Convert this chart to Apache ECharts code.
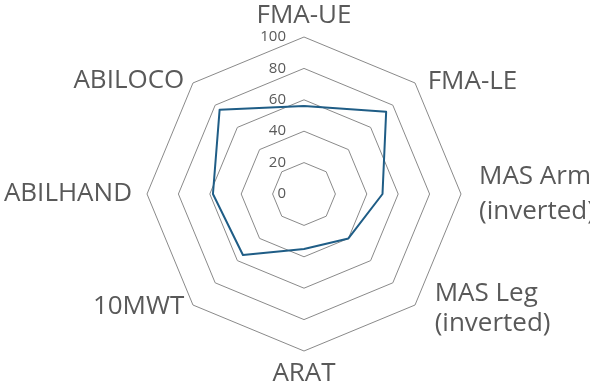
<!DOCTYPE html>
<html><head><meta charset="utf-8">
<script src="https://cdn.jsdelivr.net/npm/echarts@6/dist/echarts.min.js"></script>
<style>html,body{margin:0;padding:0;background:#fff}#c{width:590px;height:386px}</style>
</head><body><div id="c"></div>
<script>
// Indicators listed counter-clockwise starting at the top
const categories = ['FMA-UE', 'ABILOCO', 'ABILHAND', '10MWT', 'ARAT', 'MAS Leg\n(inverted)', 'MAS Arm\n(inverted)', 'FMA-LE'];
const values = [56, 76, 58, 55, 35, 40, 50, 74];
const tickValues = [0, 20, 40, 60, 80, 100];
const maxValue = 100;

const labelKeys = ['ue', 'loco', 'hand', 'mwt', 'arat', 'leg', 'arm', 'le'];
const FONT = '"Open Sans", sans-serif';
const rich = {
  ue: {},
  loco: { padding: [6, 3, 0, 0] },
  hand: { padding: [0, 7, 0, 0] },
  mwt: { padding: [0, 3, 8, 0] },
  arat: { padding: [2, 0, 0, 0] },
  leg: { padding: [0, 0, 0, 14], lineHeight: 35 },
  legb: { padding: [0, 0, 10, 14], lineHeight: 35 },
  arm: { padding: [0, 0, 0, 10], lineHeight: 35 },
  armb: { padding: [0, 0, 0, 10], lineHeight: 35 },
  le: { padding: [8, 0, 0, 7] }
};

const indicator = categories.map((name, i) => {
  const o = { name: name, min: tickValues[0], max: maxValue };
  if (i === 0) o.axisLabel = { show: true };
  return o;
});

const chart = echarts.init(document.getElementById('c'));
chart.setOption({
  backgroundColor: '#ffffff',
  animation: false,
  radar: {
    center: [304, 194],
    radius: 157,
    startAngle: 90,
    shape: 'polygon',
    splitNumber: tickValues.length - 1,
    indicator: indicator,
    axisName: {
      color: '#595959',
      fontSize: 26,
      fontFamily: FONT,
      formatter: function (name) {
        const idx = categories.indexOf(name);
        const key = labelKeys[idx];
        return name.split('\n').map((l, j) => '{' + key + (j ? 'b' : '') + '|' + l + '}').join('\n');
      },
      rich: rich
    },
    nameGap: 8,
    axisLine: { show: false },
    axisTick: { show: false },
    axisLabel: { show: false, color: '#595959', fontSize: 15, fontFamily: FONT, margin: 18 },
    splitLine: { lineStyle: { color: '#8a8a8a', width: 1 } },
    splitArea: { show: false }
  },
  series: [{
    type: 'radar',
    symbol: 'none',
    lineStyle: { color: '#1f5d86', width: 2 },
    data: [{ value: values }]
  }]
});
</script></body></html>
